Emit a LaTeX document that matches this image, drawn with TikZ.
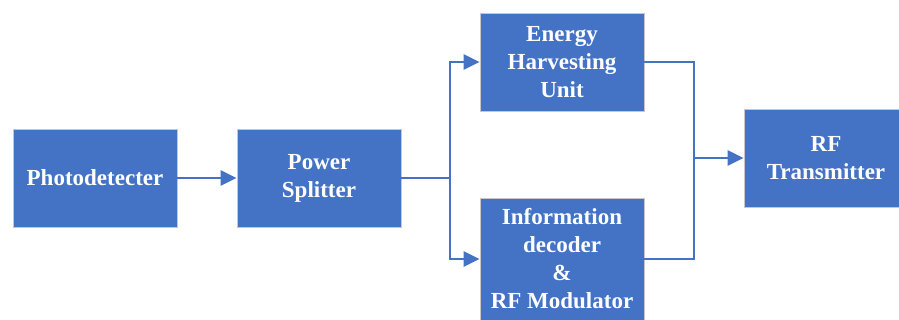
\documentclass[tikz,border=0pt]{standalone}
\usepackage{fontspec}
\setmainfont{Liberation Serif}
\usetikzlibrary{arrows.meta,calc}
\definecolor{boxblue}{HTML}{4472C4}
\begin{document}
\begin{tikzpicture}[x=1pt,y=1pt,
  blockbox/.style={draw=black!22, line width=0.8pt, fill=boxblue, text=white,
    font=\fontsize{23}{28}\selectfont\bfseries, align=center,
    minimum width=164pt, inner sep=0pt, anchor=center},
  conn/.style={draw=boxblue, line width=2.4pt},
  arr/.style={conn, -{Triangle[length=16pt,width=15pt]}}]
\useasboundingbox (0,0) rectangle (899,320);
\fill[white] (0,0) rectangle (899,320);
\node[blockbox, minimum height=98pt] (photo) at (95,142) {Photodetecter};
\node[blockbox, minimum height=98pt] (split) at (319,142) {Power\\Splitter};
\node[blockbox, minimum height=98pt] (energy) at (562,258) {Energy\\Harvesting\\Unit};
\node[blockbox, minimum height=122pt] (info) at (562,61) {Information\\decoder\\\&\\RF Modulator};
\node[blockbox, minimum height=98pt] (rf) at (826,162) {RF\\Transmitter};
\coordinate (j1) at (450,142);
\coordinate (j2) at (694,162);
\draw[arr] (photo.east) -- (split.west);
\draw[conn] (split.east) -- (j1);
\draw[arr] (j1) |- (energy.west);
\draw[arr] (j1) |- (info.west);
\draw[conn] (energy.east) -| (j2) |- (info.east);
\draw[arr] (j2) -- (rf.west);
\end{tikzpicture}
\end{document}
